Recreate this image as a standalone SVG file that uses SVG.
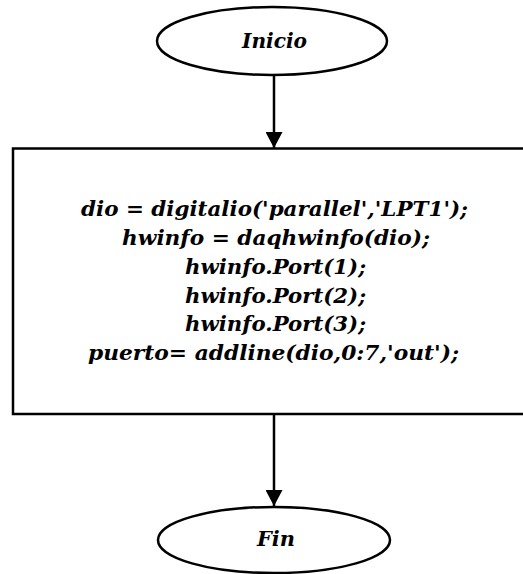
<svg xmlns="http://www.w3.org/2000/svg" width="523" height="574" viewBox="0 0 523 574">
  <style>
    .shape { fill: #ffffff; stroke: #000000; }
    .lbl { font-family: "DejaVu Serif", "Liberation Serif", serif; font-weight: bold; font-style: italic; fill: #000000; text-anchor: middle; }
    .edge { stroke: #000000; stroke-width: 2.5; fill: none; }
  </style>
  <defs>
    <marker id="arrow" viewBox="0 0 16 17" refX="16" refY="8.5" markerWidth="16" markerHeight="17" markerUnits="userSpaceOnUse" orient="auto">
      <path d="M0,0 L16,8.5 L0,17 Z" fill="#000000"/>
    </marker>
  </defs>
  <rect width="523" height="574" fill="#ffffff"/>

  <g id="connectors">
    <line class="edge" x1="274" y1="75" x2="274" y2="148" marker-end="url(#arrow)"/>
    <line class="edge" x1="274" y1="414" x2="274" y2="506" marker-end="url(#arrow)"/>
  </g>

  <g id="start">
    <ellipse class="shape" cx="272" cy="41" rx="115" ry="34" stroke-width="2.5"/>
    <text class="lbl" x="274.5" y="48" font-size="20" textLength="65" lengthAdjust="spacingAndGlyphs">Inicio</text>
  </g>

  <g id="process">
    <rect class="shape" x="13" y="148.5" width="520" height="265.5" stroke-width="2.5"/>
    <text class="lbl" x="274.5" y="216" font-size="20" textLength="387" lengthAdjust="spacingAndGlyphs">dio = digitalio('parallel','LPT1');</text>
    <text class="lbl" x="276" y="245" font-size="20" textLength="308" lengthAdjust="spacingAndGlyphs">hwinfo = daqhwinfo(dio);</text>
    <text class="lbl" x="275.5" y="274" font-size="20" textLength="181" lengthAdjust="spacingAndGlyphs">hwinfo.Port(1);</text>
    <text class="lbl" x="275.5" y="303" font-size="20" textLength="181" lengthAdjust="spacingAndGlyphs">hwinfo.Port(2);</text>
    <text class="lbl" x="275.5" y="331" font-size="20" textLength="181" lengthAdjust="spacingAndGlyphs">hwinfo.Port(3);</text>
    <text class="lbl" x="273.5" y="360" font-size="20" textLength="371" lengthAdjust="spacingAndGlyphs">puerto= addline(dio,0:7,'out');</text>
  </g>

  <g id="end">
    <ellipse class="shape" cx="274" cy="540" rx="116" ry="33" stroke-width="2.5"/>
    <text class="lbl" x="276" y="546" font-size="20" textLength="38" lengthAdjust="spacingAndGlyphs">Fin</text>
  </g>
</svg>
